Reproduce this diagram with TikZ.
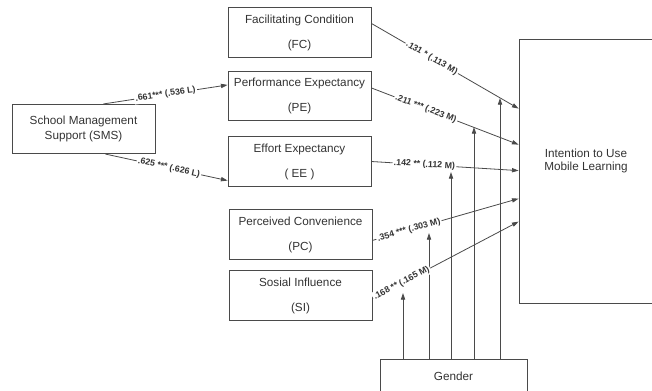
\documentclass[tikz,border=0pt]{standalone}
\usepackage{fontspec}
\setmainfont{Liberation Sans}
\usetikzlibrary{arrows.meta,calc}
\definecolor{PathLine}{HTML}{4A4A4A}
\definecolor{PathText}{HTML}{333333}

\begin{document}
\begin{tikzpicture}[x=0.75pt,y=-0.75pt,
    box/.style={draw=PathLine,line width=0.6pt,text=PathText,align=center,
      minimum width=107.25pt,minimum height=37pt,inner sep=0pt,
      font=\fontsize{8.8}{18.8}\selectfont},
    link/.style={PathLine,line width=0.6pt,-{Triangle[length=5pt,width=3.2pt]}},
    coef/.style={sloped,fill=white,inner sep=1pt,text=PathText,
      font=\fontsize{6.6}{7}\selectfont\bfseries}]
  \clip (0,0) rectangle (652,390);

  \node[box,font=\fontsize{8.8}{11.3}\selectfont] (sms) at (83.5,129)
    {School Management\\Support (SMS)};
  \foreach \n/\x/\y/\tA/\tB in {
    fc/299.5/32.5/Facilitating Condition/(FC),
    pe/299.5/96/Performance Expectancy/(PE),
    ee/299.5/161.5/Effort Expectancy/( EE ),
    pc/300.5/234.5/Perceived Convenience/(PC),
    si/300.5/295.5/Sosial Influence/(SI)
  }{
    \node[box] (\n) at (\x,\y) {\tA\\\tB};
  }
  \node[box,minimum width=102.75pt,minimum height=198pt] (int) at (587.5,171) {};
  \node[text=PathText,align=center,font=\fontsize{8.8}{9.6}\selectfont]
    (intlbl) at (586,161) {Intention to Use\\Mobile Learning};
  \node[box,minimum width=110.25pt,minimum height=25.5pt] (gen) at (453.5,376) {Gender};

  % moderation by gender
  \coordinate (mFC) at (500,98);
  \coordinate (mPE) at (474,127);
  \coordinate (mEE) at (451,172);
  \coordinate (mPC) at (429,233);
  \coordinate (mSI) at (403,293);
  \foreach \m in {mFC,mPE,mEE,mPC,mSI}
    \draw[link] (gen.north -| \m) -- (\m);

  \draw[link] ($(sms.north)+(20,0)$) -- node[coef]{.661*** (.536 L)}
    ($(pe.north west)+(0,14)$);
  \draw[link] ($(sms.south)+(22,0)$) -- node[coef,pos=0.52]{.625 *** (.626 L)}
    ($(ee.south west)+(0,-6)$);

  \draw[link] ($(fc.north east)+(0,16)$) -- node[coef,pos=0.41]{.131 * (.113 M)}
    ($(int.north west)+(0,70)$);
  \draw[link] ($(pe.north east)+(0,17)$) -- node[coef,pos=0.37]{.211 *** (.223 M)}
    ($(int.north west)+(0,106)$);
  \draw[link] (ee.east) -- node[coef,pos=0.36]{.142 ** (.112 M)}
    ($(int.north west)+(0,132)$);
  \draw[link] ($(pc.north east)+(0,31)$) -- node[coef,pos=0.25]{.354 *** (.303 M)}
    ($(int.north west)+(0,160)$);
  \draw[link] ($(si.east)+(0,3)$) -- node[coef,pos=0.2]{.168 ** (.165 M)}
    ($(int.north west)+(0,183)$);
\end{tikzpicture}
\end{document}
